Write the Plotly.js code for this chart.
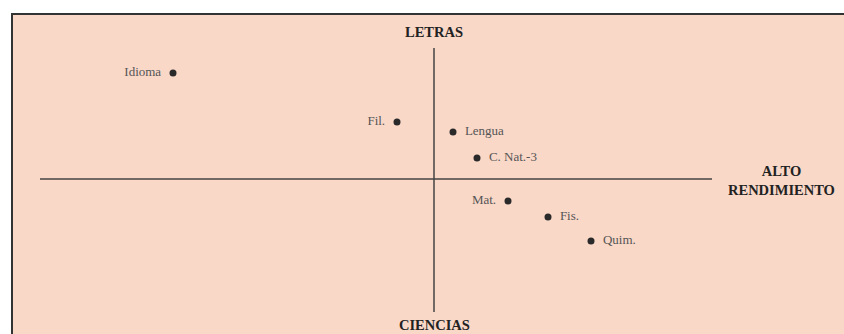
<!DOCTYPE html>
<html>
<head>
<meta charset="utf-8">
<script src="https://cdn.plot.ly/plotly-3.0.1.min.js"></script>
<style>
  html, body { margin: 0; padding: 0; background: #ffffff; }
  #chart { width: 844px; height: 334px; }
</style>
</head>
<body>
<div id="chart"></div>
<script>
// subjects placed on the two factor axes (letras/ciencias vs. rendimiento)
var subjects = ['Idioma', 'Fil.', 'Lengua', 'C. Nat.-3', 'Mat.', 'Fis.', 'Quim.'];
var rendimiento = [-2.61, -0.37, 0.19, 0.43, 0.74, 1.14, 1.57];
var letras = [1.06, 0.57, 0.47, 0.21, -0.22, -0.38, -0.62];
var labelSide = ['middle left', 'middle left', 'middle right', 'middle right',
                 'middle left', 'middle right', 'middle right'];

var peach = '#f9d8c8';
var ink = '#2a2a2a';
var pad = '\u00a0\u00a0';

// a little gap between dot and label, on the side the label sits
var labels = subjects.map(function(s, i) {
  return labelSide[i] === 'middle left' ? s + pad : pad + s;
});

var trace = {
  x: rendimiento,
  y: letras,
  text: labels,
  mode: 'markers+text',
  type: 'scatter',
  textposition: labelSide,
  hoverinfo: 'none',
  cliponaxis: false,
  textfont: { family: 'Liberation Serif, serif', size: 13, color: '#555' },
  marker: { size: 7, color: ink }
};

var titleFont = { family: 'Liberation Serif, serif', size: 14.5, color: '#222' };

var layout = {
  width: 844,
  height: 334,
  margin: { l: 0, r: 0, t: 0, b: 0 },
  paper_bgcolor: '#ffffff',
  plot_bgcolor: 'rgba(0,0,0,0)',
  showlegend: false,
  xaxis: { range: [-4.34, 4.10], visible: false, fixedrange: true },
  yaxis: { range: [-1.55, 1.79], visible: false, fixedrange: true },
  shapes: [
    // peach panel with dark top and left border
    { type: 'rect', xref: 'paper', yref: 'paper', layer: 'below',
      x0: 12 / 844, x1: 1, y0: 0, y1: 1 - 14 / 334,
      fillcolor: peach, line: { width: 0 } },
    { type: 'line', xref: 'paper', yref: 'paper', layer: 'below',
      x0: 11 / 844, x1: 1, y0: 1 - 14 / 334, y1: 1 - 14 / 334,
      line: { color: '#333', width: 2 } },
    { type: 'line', xref: 'paper', yref: 'paper', layer: 'below',
      x0: 12 / 844, x1: 12 / 844, y0: 0, y1: 1 - 14 / 334,
      line: { color: '#333', width: 2 } },
    // the two axes
    { type: 'line', x0: 0, x1: 0, y0: -1.33, y1: 1.31,
      line: { color: '#444', width: 1.5 } },
    { type: 'line', x0: -3.94, x1: 2.78, y0: 0, y1: 0,
      line: { color: '#444', width: 1.5 } }
  ],
  annotations: [
    { text: '<b>LETRAS</b>', x: 0, y: 1.47, showarrow: false, font: titleFont },
    { text: '<b>CIENCIAS</b>', x: 0, y: -1.46, showarrow: false, font: titleFont },
    { text: '<b>ALTO<br>RENDIMIENTO</b>', x: 3.47, y: -0.01, showarrow: false, font: titleFont }
  ]
};

Plotly.newPlot('chart', [trace], layout, { staticPlot: true, displayModeBar: false });
</script>
</body>
</html>
